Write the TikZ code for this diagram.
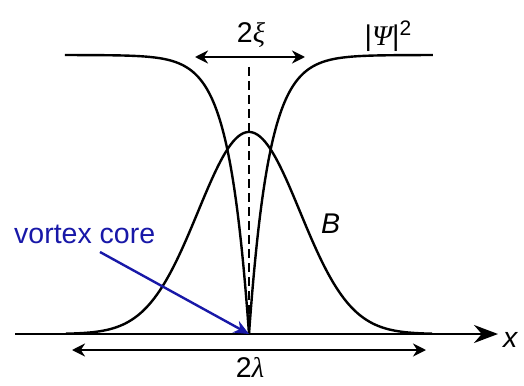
\documentclass[tikz,border=0pt]{standalone}
\usepackage{fontspec}
\setmainfont{Liberation Sans}
\newfontfamily\greekfont{Liberation Serif}
\usetikzlibrary{positioning,arrows.meta}
\definecolor{corecol}{RGB}{24,24,168}
\newcommand{\gk}[1]{{\greekfont\itshape #1}}
\begin{document}
\begin{tikzpicture}[x=1pt, y=-1pt,
  curve/.style={line width=2.4pt, line join=round},
  dimarrow/.style={line width=2.4pt, {Stealth[length=13pt,width=13pt]}-{Stealth[length=13pt,width=13pt]}},
  lbl/.style={inner sep=0pt, font=\fontsize{28.5}{32}\selectfont}]
\useasboundingbox (0,0) rectangle (524,385);
% axes
\coordinate (xstart) at (15,334);
\coordinate (xend) at (498,334);
\coordinate (core) at (249,334);
\draw[line width=2.4pt, -{Stealth[length=24pt,width=18pt]}] (xstart) -- (xend);
\node[lbl, anchor=west] (xlab) at (503,340) {\textit{x}};
% centre of the vortex
\coordinate (top) at (249,67);
\draw[line width=2.4pt, dash pattern=on 9pt off 5pt] (top) -- (core);
% order parameter |Psi|^2 --- drops to zero at the core
\draw[curve] plot[domain=13.565:0, samples=120] ({249-\x*\x}, {334-279*(1-exp(-\x*\x/20))});
\draw[curve] plot[domain=0:13.565, samples=120] ({249+\x*\x}, {334-279*(1-exp(-\x*\x/20))});
% field B --- peaked at the core
\draw[curve] plot[domain=-183:183, samples=150, smooth] ({249+\x}, {334-202*exp(-(\x/72)^2)});
\node[lbl, anchor=west] (blab) at (321,224) {\textit{B}};
\node[lbl] (psilab) at (388,36) {|\gk{Ψ}|\raisebox{10pt}{\fontsize{21}{24}\selectfont 2}};
% coherence length
\coordinate (xil) at (195,57);
\coordinate (xir) at (305,57);
\draw[dimarrow] (xil) -- (xir);
\node[lbl] (xilab) at (251,35) {2\gk{ξ}};
% penetration depth
\coordinate (laml) at (72,350);
\coordinate (lamr) at (426,350);
\draw[dimarrow] (laml) -- (lamr);
\node[lbl, anchor=base] (lamlab) at (250,377) {2\gk{λ}};
% vortex core label
\node[lbl, text=corecol, anchor=west] (corelab) at (14,234) {vortex core};
\draw[corecol, line width=2.4pt, -{Stealth[length=15pt,width=13pt]}] (100,252) -- (core);
\end{tikzpicture}
\end{document}
